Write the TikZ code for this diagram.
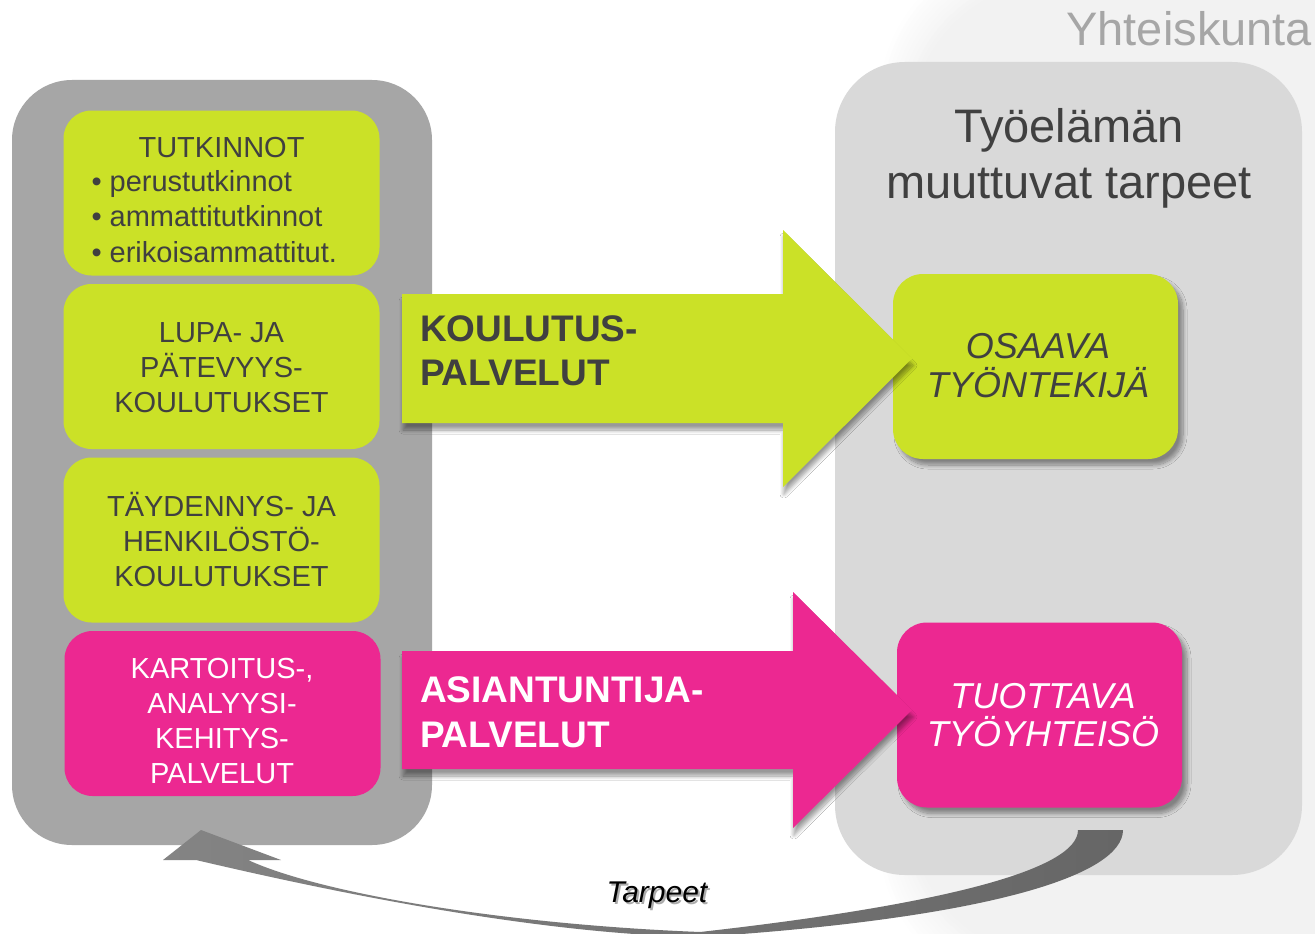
\documentclass[tikz,border=0pt]{standalone}
\usepackage{fontspec}
\setmainfont{Liberation Sans}
\usetikzlibrary{shadows.blur}
\definecolor{kgreen}{RGB}{203,225,39}
\definecolor{kpink}{RGB}{236,40,145}
\definecolor{ktext}{RGB}{64,64,64}
\definecolor{kpanel}{RGB}{166,166,166}
\definecolor{kright}{RGB}{217,217,217}
\definecolor{kbg}{RGB}{242,242,242}
\definecolor{karrowR}{RGB}{102,102,102}
\definecolor{karrowL}{RGB}{132,132,132}
\tikzset{
  every node/.style={inner sep=0pt, outer sep=0pt},
  leftbox/.style={rounded corners=28pt, minimum width=316pt, minimum height=165pt},
  rbox/.style={rounded corners=30pt, minimum width=285pt, minimum height=185pt,
    blur shadow={shadow xshift=5pt, shadow yshift=-6pt, shadow blur radius=4pt, shadow blur steps=10, shadow opacity=40}},
  arrowshadow/.style={blur shadow={shadow xshift=1pt, shadow yshift=-7pt, shadow blur radius=4pt, shadow blur steps=10, shadow opacity=40}},
  lbl/.style={font=\fontsize{29}{35}\selectfont, text=ktext},
  lblw/.style={font=\fontsize{29}{35}\selectfont, text=white},
  biglbl/.style={font=\fontsize{37}{44}\selectfont\bfseries},
  itlbl/.style={font=\fontsize{36}{40}\selectfont\itshape},
  titlelbl/.style={font=\fontsize{47}{56}\selectfont, text=ktext},
}
\begin{document}
\begin{tikzpicture}[x=1pt,y=-1pt]
\useasboundingbox (0,0) rectangle (1315,934);
\clip (0,0) rectangle (1315,934);
\fill[white] (0,0) rectangle (1315,934);
% soft society background
\foreach \i in {0,...,10}{
  \pgfmathsetmacro{\p}{10+9*\i}
  \fill[kbg!\p!white, rounded corners=150pt] ({880+3*\i},{-50+3*\i}) rectangle (1600,{990-3*\i});
}
\node[anchor=base east, titlelbl, text=kpanel] (soc) at (1312,46) {Yhteiskunta};

% left panel
\node[fill=kpanel, rounded corners=60pt, minimum width=420pt, minimum height=765pt] (edu) at (222,462.5) {};
% right panel
\node[fill=kright, rounded corners=70pt, minimum width=467pt, minimum height=813pt] (work) at (1068.5,468.5) {};
\node[anchor=base, titlelbl] (w1) at (1069,142) {Työelämän};
\node[anchor=base, titlelbl] (w2) at (1069,198) {muuttuvat tarpeet};

% left boxes
\node[leftbox, fill=kgreen] (b1) at (221.5,193) {};
\node[leftbox, fill=kgreen] (b2) at (221.5,366.5) {};
\node[leftbox, fill=kgreen] (b3) at (221.5,540) {};
\node[leftbox, fill=kpink] (b4) at (222.5,713.5) {};

\node[lbl, anchor=base] (b1a) at (221.5,157) {TUTKINNOT};
\node[lbl, anchor=base west] (b1b) at (91.5,191.5) {• perustutkinnot};
\node[lbl, anchor=base west] (b1c) at (91.5,226.5) {• ammattitutkinnot};
\node[lbl, anchor=base west] (b1d) at (91.5,262) {• erikoisammattitut.};

\node[lbl, anchor=base] (b2a) at (221.5,342.7) {LUPA- JA};
\node[lbl, anchor=base] (b2b) at (221.5,377.7) {PÄTEVYYS-};
\node[lbl, anchor=base] (b2c) at (221.5,412.7) {KOULUTUKSET};

\node[lbl, anchor=base] (b3a) at (221.5,516) {TÄYDENNYS- JA};
\node[lbl, anchor=base] (b3b) at (221.5,551.5) {HENKILÖSTÖ-};
\node[lbl, anchor=base] (b3c) at (221.5,586) {KOULUTUKSET};

\node[lblw, anchor=base] (b4a) at (222,678) {KARTOITUS-,};
\node[lblw, anchor=base] (b4b) at (222,713) {ANALYYSI-};
\node[lblw, anchor=base] (b4c) at (222,748) {KEHITYS-};
\node[lblw, anchor=base] (b4d) at (222,783) {PALVELUT};

% right boxes
\node[rbox, fill=kgreen] (osaava) at (1035.5,366.5) {};
\node[rbox, fill=kpink] (tuottava) at (1039.5,715) {};
\node[itlbl, text=ktext, anchor=base] (o1) at (1038,358) {OSAAVA};
\node[itlbl, text=ktext, anchor=base] (o2) at (1038,397) {TYÖNTEKIJÄ};
\node[itlbl, text=white, anchor=base] (p1) at (1043,708) {TUOTTAVA};
\node[itlbl, text=white, anchor=base] (p2) at (1043,746) {TYÖYHTEISÖ};

% block arrows
\fill[kgreen, arrowshadow] (402,294) -- (783,294) -- (783,230) -- (912,358.5) -- (783,487) -- (783,423) -- (402,423) -- cycle;
\fill[kpink, arrowshadow] (402,651) -- (793,651) -- (793,592) -- (912,710) -- (793,828) -- (793,769) -- (402,769) -- cycle;
\node[biglbl, text=ktext, anchor=base west] (k1) at (420,341) {KOULUTUS-};
\node[biglbl, text=ktext, anchor=base west] (k2) at (420,385) {PALVELUT};
\node[biglbl, text=white, anchor=base west] (a1) at (420,702) {ASIANTUNTIJA-};
\node[biglbl, text=white, anchor=base west] (a2) at (420,747) {PALVELUT};

% curved feedback arrow
\shade[left color=karrowL, right color=karrowR]
  (1123,830) .. controls (1123,875) and (990,918) .. (700,937)
  .. controls (520,934) and (290,882) .. (196,860)
  -- (163,860) -- (201,830) -- (281,860) -- (248,860)
  .. controls (320,893) and (500,924) .. (700,932)
  .. controls (940,905) and (1078,870) .. (1078,830) -- cycle;
\node[font=\fontsize{30}{36}\selectfont\itshape, text=black!55, opacity=0.6, anchor=base] (tsh) at (659,904) {Tarpeet};
\node[font=\fontsize{30}{36}\selectfont\itshape, text=black, anchor=base] (tarpeet) at (657,902) {Tarpeet};
\end{tikzpicture}
\end{document}
